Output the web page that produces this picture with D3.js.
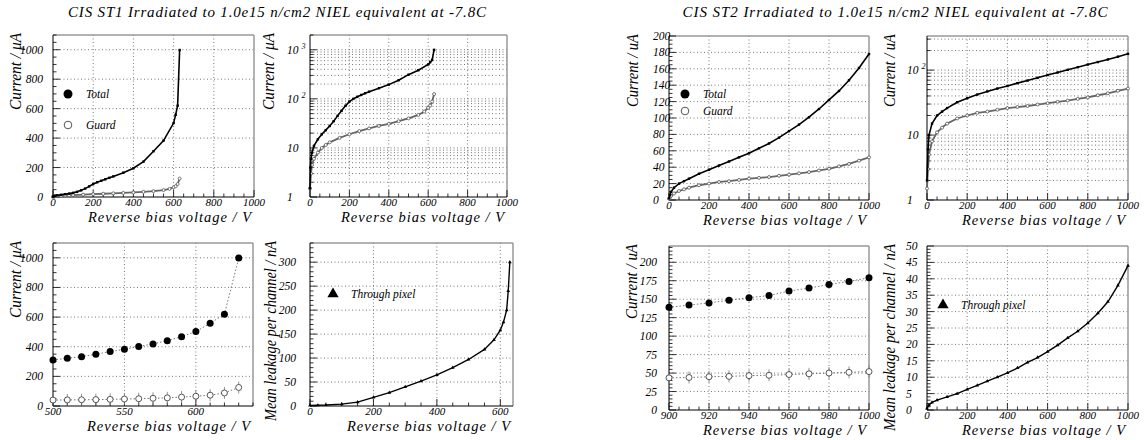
<!DOCTYPE html>
<html><head><meta charset="utf-8">
<script src="https://cdn.jsdelivr.net/npm/d3@7"></script>
</head><body style="margin:0;background:#fff">
<svg id="c" width="1144" height="440"></svg>
<script>
// ---------------- DATA ----------------
const titleST1 = "CIS ST1 Irradiated to 1.0e15 n/cm2 NIEL equivalent at -7.8C";
const titleST2 = "CIS ST2 Irradiated to 1.0e15 n/cm2 NIEL equivalent at -7.8C";
const xAxisTitle = "Reverse bias voltage / V";
const yTitleST1 = "Current / μA";
const yTitleST2 = "Current / uA";
const yTitleLeak = "Mean leakage per channel / nA";
const legendNames = ["Total", "Guard"];
const pixelName = "Through pixel";

// ST1 full sweep
const st1TotalV = [0,2,5,10,20,40,60,80,100,120,140,160,180,200,220,240,260,280,300,350,400,450,500,550,600,610,620,630];
const st1TotalI = [1.5,4,6,8,11,15,19,23,28,35,45,57,72,88,100,110,120,130,140,165,195,240,311,383,502,558,620,998];
const st1GuardV = [0,5,10,20,40,60,80,100,150,200,250,300,350,400,450,500,550,580,600,610,620,630];
const st1GuardI = [1.5,3,4.5,6,8,10,11.5,13,16,19,22,25,28,31,35,40,47,55,66,73,88,125];
// ST1 zoom 500-630 V
const st1ZoomV = [500,510,520,530,540,550,560,570,580,590,600,610,620,630];
const st1ZoomTotal = [311,322,333,349,367,383,401,419,441,468,502,558,620,998];
const st1ZoomGuard = [40,41,42,43,45,47,49,52,55,60,66,73,88,125];
// ST1 mean leakage per channel (nA)
const st1PixelV = [0,25,50,100,150,200,250,300,350,400,450,500,550,580,600,610,620,625,630];
const st1PixelI = [1,1.5,2,4,8,18,28,40,52,65,80,97,118,138,158,175,200,240,300];

// ST2 full sweep
const st2V = [0,5,10,25,50,75,100,150,200,250,300,350,400,450,500,550,600,650,700,750,800,850,900,950,1000];
const st2Total = [2,6,10,15,20,23,26,32,37,42,47,52,57,63,69,76,84,92,101,111,122,133,146,161,178];
const st2Guard = [1.5,3,5,8,11,13,15,18,20,22,23,24.5,26,27,28,29.5,31,32.5,34,36,38,41,44,48,52];
// ST2 zoom 900-1000 V
const st2ZoomV = [900,910,920,930,940,950,960,970,980,990,1000];
const st2ZoomTotal = [139,142,145,148.5,152,155,161,165,170,174,179];
const st2ZoomGuard = [43.5,44,45,45.5,46.5,47,48,49,50,51,52];
// ST2 mean leakage per channel (nA)
const st2PixelV = [0,10,25,50,100,150,200,250,300,350,400,450,500,550,600,650,700,750,800,850,900,950,1000];
const st2PixelI = [0.5,1.5,2.3,3,4,5,6.3,7.5,8.8,10,11.3,12.8,14.5,16,17.8,19.8,22,24,26.5,29.5,33,38,44];

// tick values
const ticksV1000 = [0,200,400,600,800,1000];
const ticksV640 = [0,200,400,600];
const ticksV500 = [500,550,600];
const ticksV900 = [900,920,940,960,980,1000];
const ticksI1000 = [0,200,400,600,800,1000];
const ticksI200 = [0,20,40,60,80,100,120,140,160,180,200];
const ticksI225 = [0,25,50,75,100,125,150,175,200];
const ticksLeak300 = [0,50,100,150,200,250,300];
const ticksLeak50 = [0,5,10,15,20,25,30,35,40,45,50];

// ---------------- DRAWING ----------------
const FONT = "Liberation Serif";
const svg = d3.select("#c");
const zip = (a, b) => a.map((v, i) => [v, b[i]]);
const range = (a, b, s) => d3.range(a, b + s / 2, s);
function txt(sel) { return sel.append("text").attr("font-family", FONT).attr("font-style", "italic").attr("fill", "#000"); }

function panel(o) {
  const [x0, x1, y0, y1] = o.box;
  const g = svg.append("g");
  const x = d3.scaleLinear().domain(o.xDom).range([x0, x1]);
  const y = (o.log ? d3.scaleLog() : d3.scaleLinear()).domain(o.yDom).range([y1, y0]);
  let yMaj, yMin;
  if (o.log) {
    const lo = Math.round(Math.log10(o.yDom[0])), hi = Math.floor(Math.log10(o.yDom[1]));
    yMaj = d3.range(lo, hi + 1).map(e => Math.pow(10, e));
    yMin = [];
    yMaj.forEach(d => { for (let k = 2; k <= 9; k++) if (d * k <= o.yDom[1]) yMin.push(d * k); });
  } else {
    yMaj = o.yTicks;
    yMin = range(o.yDom[0], o.yDom[1], o.yMinor).filter(v => v <= o.yDom[1]);
  }
  const xMin = range(o.xDom[0], o.xDom[1], o.xMinor).filter(v => v <= o.xDom[1]);
  const dot = "1,2.5";
  // grid
  g.selectAll(".gx").data(o.xTicks.filter(v => v > o.xDom[0] && v < o.xDom[1])).join("line")
    .attr("x1", d => x(d)).attr("x2", d => x(d)).attr("y1", y0).attr("y2", y1)
    .attr("stroke", "#555").attr("stroke-width", 0.8).attr("stroke-dasharray", dot);
  const gy = yMaj.concat(o.log ? yMin : []).filter(v => y(v) > y0 + 1 && y(v) < y1 - 1);
  g.selectAll(".gy").data(gy).join("line")
    .attr("x1", x0).attr("x2", x1).attr("y1", d => y(d)).attr("y2", d => y(d))
    .attr("stroke", "#555").attr("stroke-width", 0.8).attr("stroke-dasharray", dot);
  // frame
  g.append("line").attr("x1", x0).attr("x2", x1).attr("y1", y0).attr("y2", y0).attr("stroke", "#999").attr("stroke-width", 1.5);
  g.append("line").attr("x1", x1).attr("x2", x1).attr("y1", y0).attr("y2", y1).attr("stroke", "#999").attr("stroke-width", 1.5);
  g.append("line").attr("x1", x0).attr("x2", x0).attr("y1", y0).attr("y2", y1).attr("stroke", "#000").attr("stroke-width", 1);
  g.append("line").attr("x1", x0).attr("x2", x1).attr("y1", y1).attr("y2", y1).attr("stroke", "#000").attr("stroke-width", 1);
  // ticks
  g.selectAll(".tx").data(xMin).join("line")
    .attr("x1", d => x(d)).attr("x2", d => x(d)).attr("y1", y1)
    .attr("y2", d => y1 - (o.xTicks.includes(d) ? 7 : 3.5)).attr("stroke", "#000").attr("stroke-width", 0.8);
  g.selectAll(".ty").data(Array.from(new Set(yMaj.concat(yMin)))).join("line")
    .attr("y1", d => y(d)).attr("y2", d => y(d)).attr("x1", x0)
    .attr("x2", d => x0 + (yMaj.includes(d) ? 7 : 3.5)).attr("stroke", "#000").attr("stroke-width", 0.8);
  // x tick labels
  o.xTicks.forEach(d => {
    txt(g).attr("x", x(d)).attr("y", y1 + 9).attr("text-anchor", "middle").attr("font-size", 11).text(d);
  });
  // y tick labels
  yMaj.forEach(d => {
    const t = txt(g).attr("x", o.yLabX).attr("y", y(d) + 4).attr("text-anchor", o.yLabAnchor).attr("font-size", 11.5);
    if (o.log) {
      const e = Math.round(Math.log10(d));
      if (e === 0) t.text("1");
      else if (e === 1) t.text("10");
      else { t.append("tspan").text("10 "); t.append("tspan").attr("dy", -5).attr("font-size", 8).text(e); }
    } else t.text(d);
  });
  // x title
  txt(svg).attr("x", x1 - 3).attr("y", y1 + 25).attr("text-anchor", "end")
    .attr("font-size", 14.5).attr("textLength", 163).attr("lengthAdjust", "spacing").text(xAxisTitle);
  // y title
  txt(svg).attr("transform", `translate(${o.yTitleX},${y0 - 2}) rotate(-90)`)
    .attr("dy", "0.35em").attr("text-anchor", "end").attr("font-size", 16)
    .attr("textLength", o.yTitleLen).attr("lengthAdjust", "spacingAndGlyphs").text(o.yTitle);
  return { x, y, g };
}

function denseCurve(p, pts, color, open) {
  const line = d3.line().x(d => p.x(d[0])).y(d => p.y(d[1]));
  p.g.append("path").datum(pts).attr("d", line).attr("fill", "none")
    .attr("stroke", color).attr("stroke-width", open ? 1.8 : 1.6);
  if (open) {
    p.g.selectAll(null).data(pts).join("circle").attr("cx", d => p.x(d[0])).attr("cy", d => p.y(d[1]))
      .attr("r", 1.5).attr("fill", "#fff").attr("stroke", "#555").attr("stroke-width", 0.8);
  } else {
    p.g.selectAll(null).data(pts).join("rect").attr("x", d => p.x(d[0]) - 1.2).attr("y", d => p.y(d[1]) - 1.2)
      .attr("width", 2.4).attr("height", 2.4).attr("fill", color);
  }
}
function triCurve(p, pts) {
  const line = d3.line().x(d => p.x(d[0])).y(d => p.y(d[1]));
  p.g.append("path").datum(pts).attr("d", line).attr("fill", "none").attr("stroke", "#000").attr("stroke-width", 1.4);
  p.g.selectAll(null).data(pts).join("path")
    .attr("d", d3.symbol(d3.symbolTriangle, 6)).attr("transform", d => `translate(${p.x(d[0])},${p.y(d[1])})`).attr("fill", "#000");
}
function pointSeries(p, pts, filled) {
  const line = d3.line().x(d => p.x(d[0])).y(d => p.y(d[1]));
  p.g.append("path").datum(pts).attr("d", line).attr("fill", "none")
    .attr("stroke", "#666").attr("stroke-width", 0.9).attr("stroke-dasharray", "1.5,2");
  if (filled) {
    p.g.selectAll(null).data(pts).join("circle").attr("cx", d => p.x(d[0])).attr("cy", d => p.y(d[1]))
      .attr("r", 3.5).attr("fill", "#000");
  } else {
    p.g.selectAll(null).data(pts).join("line").attr("x1", d => p.x(d[0])).attr("x2", d => p.x(d[0]))
      .attr("y1", d => p.y(d[1]) - 6).attr("y2", d => p.y(d[1]) + 6).attr("stroke", "#777").attr("stroke-width", 0.8);
    p.g.selectAll(null).data(pts).join("circle").attr("cx", d => p.x(d[0])).attr("cy", d => p.y(d[1]))
      .attr("r", 3).attr("fill", "#fff").attr("stroke", "#444").attr("stroke-width", 0.9);
  }
}
function legend2(cx, cy, dy) {
  svg.append("circle").attr("cx", cx).attr("cy", cy).attr("r", 4.5).attr("fill", "#000");
  svg.append("circle").attr("cx", cx).attr("cy", cy + dy).attr("r", 3.8).attr("fill", "#fff").attr("stroke", "#555");
  txt(svg).attr("x", cx + 18).attr("y", cy + 4).attr("font-size", 11.5).text(legendNames[0]);
  txt(svg).attr("x", cx + 18).attr("y", cy + dy + 4).attr("font-size", 11.5).text(legendNames[1]);
}
function legendTri(cx, cy) {
  svg.append("path").attr("d", d3.symbol(d3.symbolTriangle, 55)).attr("transform", `translate(${cx},${cy})`).attr("fill", "#000");
  txt(svg).attr("x", cx + 18).attr("y", cy + 4).attr("font-size", 11.5).text(pixelName);
}

// titles
txt(svg).attr("x", 277).attr("y", 17).attr("text-anchor", "middle").attr("font-size", 15)
  .attr("textLength", 418).attr("lengthAdjust", "spacing").text(titleST1);
txt(svg).attr("x", 895).attr("y", 17).attr("text-anchor", "middle").attr("font-size", 15)
  .attr("textLength", 425).attr("lengthAdjust", "spacing").text(titleST2);

// ---- ST1 panels ----
const pA = panel({ box: [53, 254, 35, 197], xDom: [0, 1000], yDom: [0, 1100], xTicks: ticksV1000, xMinor: 50,
  yTicks: ticksI1000, yMinor: 50, yLabX: 43, yLabAnchor: "end",
  yTitle: yTitleST1, yTitleX: 15, yTitleLen: 77 });
denseCurve(pA, zip(st1GuardV, st1GuardI), "#666", true);
denseCurve(pA, zip(st1TotalV, st1TotalI), "#000", false);
legend2(68, 94, 31);

const pB = panel({ box: [310, 507, 35, 197], log: true, xDom: [0, 1000], yDom: [1, 2000], xTicks: ticksV1000, xMinor: 50,
  yLabX: 287, yLabAnchor: "start",
  yTitle: yTitleST1, yTitleX: 268, yTitleLen: 77 });
denseCurve(pB, zip(st1GuardV, st1GuardI), "#666", true);
denseCurve(pB, zip(st1TotalV, st1TotalI), "#000", false);

const pC = panel({ box: [53, 253, 243, 406], xDom: [500, 640], yDom: [0, 1100], xTicks: ticksV500, xMinor: 10,
  yTicks: ticksI1000, yMinor: 50, yLabX: 43, yLabAnchor: "end",
  yTitle: yTitleST1, yTitleX: 15, yTitleLen: 77 });
pointSeries(pC, zip(st1ZoomV, st1ZoomGuard), false);
pointSeries(pC, zip(st1ZoomV, st1ZoomTotal), true);

const pD = panel({ box: [310, 513, 243, 406], xDom: [0, 640], yDom: [0, 340], xTicks: ticksV640, xMinor: 50,
  yTicks: ticksLeak300, yMinor: 10, yLabX: 296, yLabAnchor: "end",
  yTitle: yTitleLeak, yTitleX: 270, yTitleLen: 180 });
triCurve(pD, zip(st1PixelV, st1PixelI));
legendTri(333, 294);

// ---- ST2 panels ----
const pE = panel({ box: [669, 869, 36, 200], xDom: [0, 1000], yDom: [0, 200], xTicks: ticksV1000, xMinor: 50,
  yTicks: ticksI200, yMinor: 5, yLabX: 653, yLabAnchor: "start",
  yTitle: yTitleST2, yTitleX: 632, yTitleLen: 73 });
denseCurve(pE, zip(st2V, st2Guard), "#666", true);
denseCurve(pE, zip(st2V, st2Total), "#000", false);
legend2(685, 94, 17);

const pF = panel({ box: [927, 1128, 36, 200], log: true, xDom: [0, 1000], yDom: [1, 335], xTicks: ticksV1000, xMinor: 50,
  yLabX: 907, yLabAnchor: "start",
  yTitle: yTitleST2, yTitleX: 889, yTitleLen: 73 });
denseCurve(pF, zip(st2V, st2Guard), "#666", true);
denseCurve(pF, zip(st2V, st2Total), "#000", false);

const pG = panel({ box: [669, 869, 246, 410], xDom: [900, 1000], yDom: [0, 222], xTicks: ticksV900, xMinor: 5,
  yTicks: ticksI225, yMinor: 5, yLabX: 657, yLabAnchor: "end",
  yTitle: yTitleST2, yTitleX: 631, yTitleLen: 75 });
pointSeries(pG, zip(st2ZoomV, st2ZoomGuard), false);
pointSeries(pG, zip(st2ZoomV, st2ZoomTotal), true);

const pH = panel({ box: [927, 1128, 246, 410], xDom: [0, 1000], yDom: [0, 50], xTicks: ticksV1000, xMinor: 50,
  yTicks: ticksLeak50, yMinor: 1, yLabX: 906, yLabAnchor: "start",
  yTitle: yTitleLeak, yTitleX: 889, yTitleLen: 187 });
triCurve(pH, zip(st2PixelV, st2PixelI));
legendTri(943, 305);
</script>
</body></html>
